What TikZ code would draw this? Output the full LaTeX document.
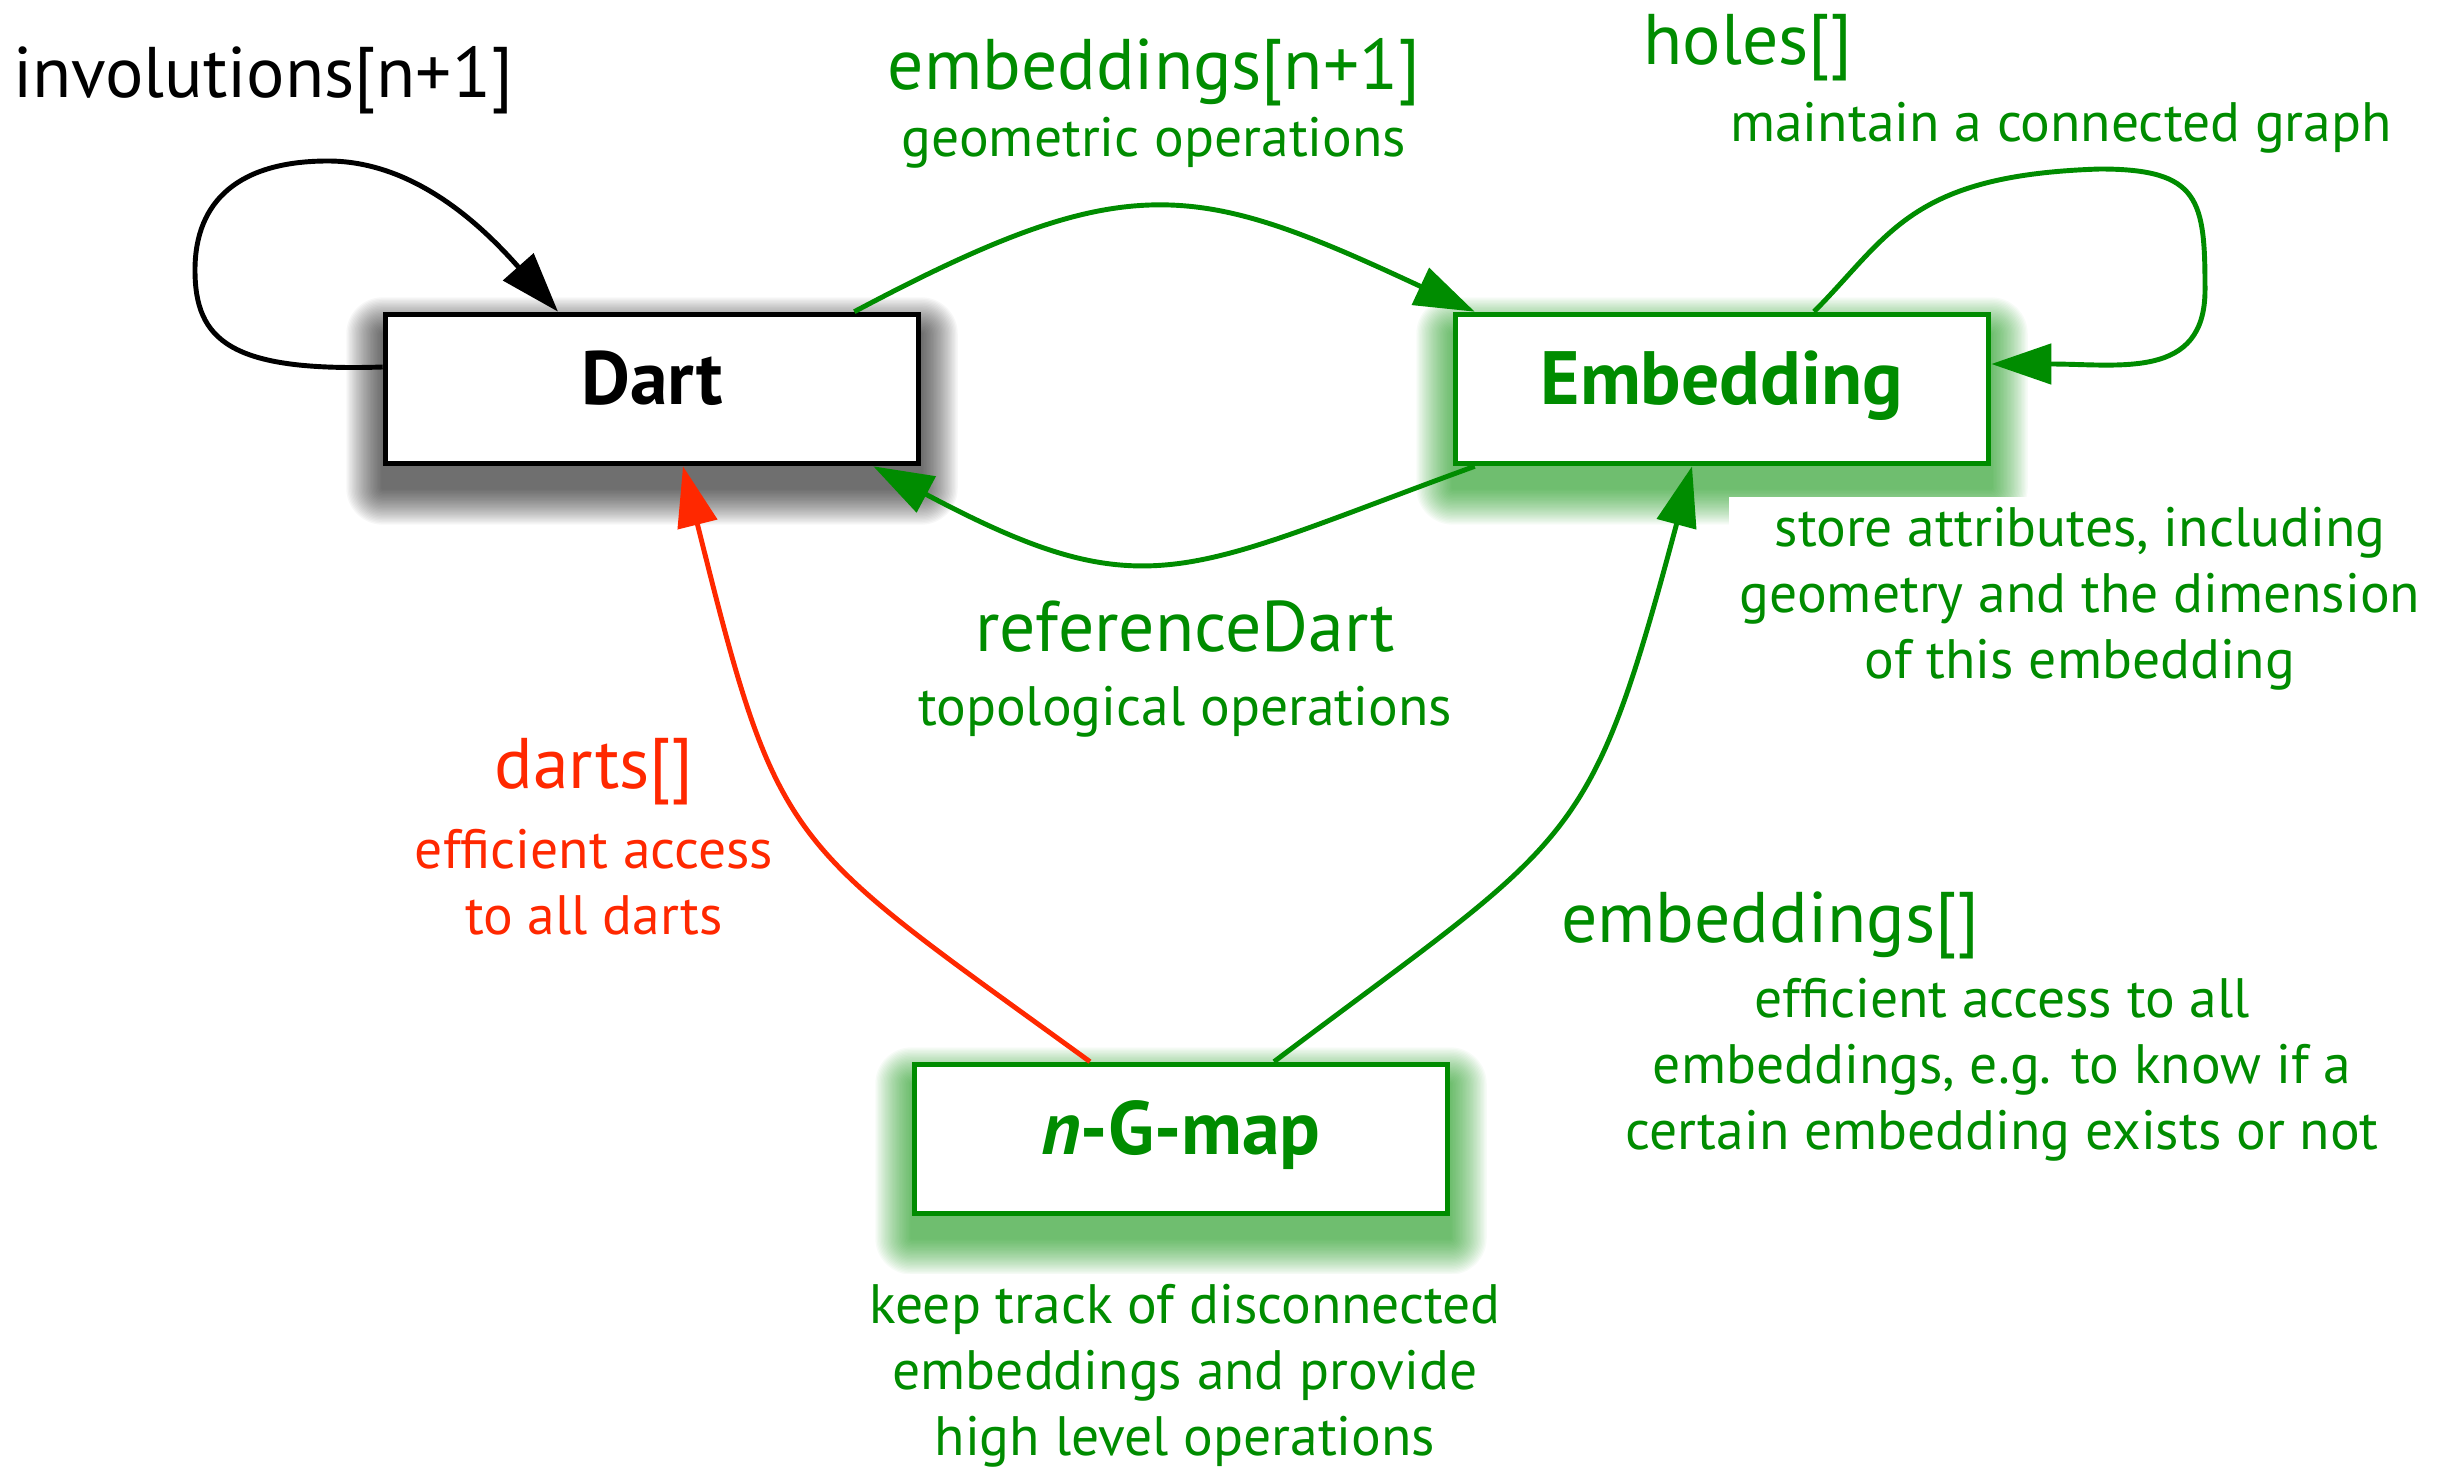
\documentclass[tikz,border=0pt]{standalone}
\usepackage{fontspec}
\setmainfont{PT Sans}
\usetikzlibrary{positioning, arrows.meta, calc, backgrounds}

\definecolor{mapgreen}{RGB}{0,140,0}
\definecolor{mapred}{RGB}{255,40,0}

% soft shadow behind a box: #1 node name, #2 colour
\newcommand{\boxglow}[2]{%
    \foreach \i in {1,...,26}
        \fill[#2, opacity=0.03, rounded corners=\i*0.4pt] ([shift={(-\i*0.014, -0.22-\i*0.014)}]#1.south west) rectangle ([shift={(\i*0.014, -0.22+\i*0.014)}]#1.north east);
}

\begin{document}
\begin{tikzpicture}[
        box/.style={draw, fill=white, line width=1.6pt, minimum width=5.33cm, minimum height=1.49cm,
            text height=0.6cm, text depth=0.3cm, font=\fontsize{21.5}{25}\selectfont\bfseries},
        lbl/.style={mapgreen, fill=white, inner sep=1pt, font=\fontsize{20.4}{24}\selectfont},
        desc/.style={mapgreen, fill=white, inner sep=3pt, align=center, font=\fontsize{15.8}{18.8}\selectfont},
        arr/.style={-{Triangle[length=6mm, width=4mm]}, line width=1.4pt}
    ]
    \useasboundingbox (0,0) rectangle (24.52,-14.67);

    % --- Boxes ---
    \node[box, text=black] (dart) at (6.52,-3.89) {Dart};
    \node[box, draw=mapgreen, text=mapgreen] (emb) at (17.22,-3.89) {Embedding};
    \node[box, draw=mapgreen, text=mapgreen] (ngmap) at (11.81,-11.39) {\textit{n}-G-map};

    % --- Shadows ---
    \begin{scope}[on background layer]
        \boxglow{dart}{black}
        \boxglow{emb}{mapgreen}
        \boxglow{ngmap}{mapgreen}
    \end{scope}

    % --- Labels ---
    \node[lbl, text=black] (involbl) at (2.63,-0.80) {involutions[n+1]};
    \node[lbl] (embnlbl) at (11.54,-0.72) {embeddings[n+1]};
    \node[desc] (geomlbl) at (11.54,-1.43) {geometric operations};
    \node[lbl] (holeslbl) at (17.48,-0.48) {holes[]};
    \node[desc] (connlbl) at (20.61,-1.28) {maintain a connected graph};
    \node[lbl] (reflbl) at (11.85,-6.27) {referenceDart};
    \node[desc] (topolbl) at (11.85,-7.12) {topological operations};
    \node[desc] (attrlbl) at (20.80,-5.99) {store attributes, including\\geometry and the dimension\\of this embedding};
    \node[lbl, text=mapred] (dartslbl) at (5.94,-7.72) {darts[]};
    \node[desc, text=mapred] (accesslbl) at (5.94,-8.82) {efficient access\\to all darts};
    \node[lbl] (embslbl) at (17.70,-9.25) {embeddings[]};
    \node[desc] (existlbl) at (20.02,-10.70) {efficient access to all\\embeddings, e.g. to know if a\\certain embedding exists or not};
    \node[desc] (tracklbl) at (11.85,-13.76) {keep track of disconnected\\embeddings and provide\\high level operations};

    % --- Self loops ---
    \draw[arr] ([yshift=.22cm]dart.west) .. controls (2.30,-3.72) and (1.95,-3.40) .. (1.95,-2.70)
        .. controls (1.95,-2.00) and (2.40,-1.61) .. (3.28,-1.61)
        .. controls (4.20,-1.61) and (4.90,-2.35) .. ([xshift=-.94cm]dart.north);
    \draw[arr, mapgreen] ([xshift=.92cm]emb.north) .. controls (18.90,-2.35) and (19.10,-1.75) .. (21.00,-1.69)
        .. controls (22.00,-1.69) and (22.05,-2.00) .. (22.05,-2.90)
        .. controls (22.05,-3.80) and (21.20,-3.64) .. ([yshift=.25cm]emb.east);

    % --- Dart <-> Embedding ---
    \draw[arr, mapgreen] ([xshift=-.67cm]dart.north east) to[out=28, in=155, distance=3.1cm] ([xshift=.22cm]emb.north west);
    \draw[arr, mapgreen] ([xshift=.22cm]emb.south west) to[out=200, in=-28, distance=3.1cm] ([xshift=-.48cm]dart.south east);

    % --- n-G-map to both ---
    \draw[arr, mapred] ([xshift=-.91cm]ngmap.north) to[out=144, in=-76, out distance=3.8cm, in distance=4cm] ([xshift=.31cm]dart.south);
    \draw[arr, mapgreen] ([xshift=.93cm]ngmap.north) to[out=37, in=-105, out distance=3.8cm, in distance=4cm] ([xshift=-.30cm]emb.south);

\end{tikzpicture}
\end{document}
